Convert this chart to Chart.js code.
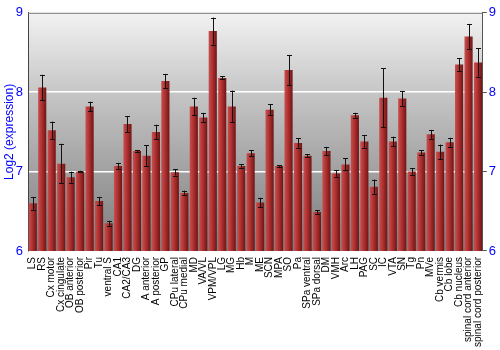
<!DOCTYPE html>
<html><head><meta charset="utf-8">
<script src="https://cdn.jsdelivr.net/npm/chart.js@4/dist/chart.umd.min.js"></script>
<style>html,body{margin:0;padding:0;background:#fff}#wrap{width:500px;height:350px}</style>
</head><body><div id="wrap"><canvas id="c" width="500" height="350"></canvas></div>
<script>
const categories = ["LS","RS","Cx motor","Cx cingulate","OB anterior","OB posterior","Pir","Tu","ventral S","CA1","CA2/CA3","DG","A anterior","A posterior","GP","CPu lateral","CPu medial","MD","VA/VL","VPM/VPL","LG","MG","Hb","M","ME","SCN","MPA","SO","Pa","SPa ventral","SPa dorsal","DM","VMH","Arc","LH","PAG","SC","IC","VTA","SN","Tg","Pn","MVe","Cb vermis","Cb lobe","Cb nucleus","spinal cord anterior","spinal cord posterior"];
const values = [6.60,8.06,7.52,7.10,6.93,7.00,7.82,6.63,6.35,7.07,7.60,7.26,7.20,7.50,8.14,6.99,6.73,7.82,7.68,8.77,8.18,7.82,7.07,7.23,6.61,7.78,7.07,8.28,7.36,7.20,6.49,7.26,6.975,7.09,7.71,7.38,6.81,7.93,7.38,7.92,7.00,7.24,7.47,7.25,7.37,8.35,8.70,8.375];
const errors = [0.08,0.16,0.11,0.25,0.07,0.01,0.06,0.05,0.03,0.04,0.10,0.01,0.13,0.09,0.09,0.04,0.03,0.11,0.06,0.17,0.02,0.20,0.02,0.04,0.06,0.065,0.01,0.19,0.06,0.02,0.02,0.05,0.04,0.075,0.03,0.08,0.09,0.37,0.06,0.09,0.04,0.03,0.055,0.09,0.055,0.08,0.16,0.18];
const yTicks = [6,7,8,9];

const BAR_PCT = 0.86;
function barGradient(ctx){
  const chart = ctx.chart;
  const xs = chart.scales.x;
  if(!xs || ctx.dataIndex === undefined) return '#a82828';
  const cx = xs.getPixelForValue(ctx.dataIndex);
  const w = (xs.right - xs.left)/categories.length*BAR_PCT;
  if(!isFinite(cx)) return '#a82828';
  const g = chart.ctx.createLinearGradient(cx - w/2, 0, cx + w/2, 0);
  g.addColorStop(0,'#c75050');
  g.addColorStop(0.45,'#b03030');
  g.addColorStop(1,'#6e1515');
  return g;
}

const bgPlugin = {
  id:'bg',
  beforeDraw(chart){
    const {ctx, chartArea:a} = chart;
    const g = ctx.createLinearGradient(0,a.top,0,a.bottom);
    g.addColorStop(0,'#f2f2f2');
    g.addColorStop(0.35,'#c4c4c4');
    g.addColorStop(1,'#7c7c7c');
    ctx.save();
    ctx.fillStyle = g;
    ctx.fillRect(a.left,a.top,a.right-a.left,a.bottom-a.top);
    ctx.restore();
  },
  afterDraw(chart){
    const {ctx, chartArea:a} = chart;
    ctx.save();
    ctx.strokeStyle='#777';
    ctx.lineWidth=1;
    ctx.beginPath();
    ctx.moveTo(a.left,a.top+0.5);ctx.lineTo(a.right,a.top+0.5);
    ctx.stroke();
    ctx.restore();
  }
};

const errPlugin = {
  id:'err',
  afterDatasetsDraw(chart){
    const {ctx} = chart;
    const ys = chart.scales.y;
    const meta = chart.getDatasetMeta(0);
    ctx.save();
    ctx.strokeStyle='#111';
    ctx.lineWidth=1;
    meta.data.forEach((bar,i)=>{
      const x = Math.round(bar.x)+0.5;
      const t = ys.getPixelForValue(values[i]+errors[i]);
      const b = ys.getPixelForValue(values[i]-errors[i]);
      ctx.beginPath();
      ctx.moveTo(x,t);ctx.lineTo(x,b);
      ctx.moveTo(x-2.5,Math.round(t)+0.5);ctx.lineTo(x+2.5,Math.round(t)+0.5);
      ctx.moveTo(x-2.5,Math.round(b)+0.5);ctx.lineTo(x+2.5,Math.round(b)+0.5);
      ctx.stroke();
    });
    ctx.restore();
  }
};

new Chart(document.getElementById('c'),{
  type:'bar',
  data:{labels:categories,datasets:[{data:values,backgroundColor:barGradient,borderWidth:0,barPercentage:BAR_PCT,categoryPercentage:1}]},
  options:{
    responsive:false,animation:false,
    layout:{padding:{top:6,right:2,left:2,bottom:-3}},
    plugins:{legend:{display:false},tooltip:{enabled:false}},
    scales:{
      x:{
        grid:{display:false,drawTicks:false,tickLength:0},
        border:{display:false},
        ticks:{autoSkip:false,maxRotation:90,minRotation:90,color:'#000',padding:6,font:{family:'Liberation Sans, Arial',size:10}}
      },
      y:{
        min:6,max:9,position:'left',
        afterFit(s){s.width=26;},
        afterBuildTicks(s){s.ticks=yTicks.map(v=>({value:v}));},
        grid:{color:(c)=> (c.tick && (c.tick.value===7||c.tick.value===8))?'#ffffff':'rgba(0,0,0,0)',drawTicks:false,lineWidth:1.5},
        border:{display:true,color:'#444'},
        ticks:{color:'#0000ff',padding:5,font:{family:'Liberation Sans, Arial',size:13}},
        title:{display:true,text:'Log2 (expression)',color:'#0000ff',padding:{top:0,bottom:1},font:{family:'Liberation Sans, Arial',size:12}}
      },
      y2:{
        min:6,max:9,position:'right',
        afterBuildTicks(s){s.ticks=yTicks.map(v=>({value:v}));},
        grid:{drawOnChartArea:false,color:'#555',tickLength:4},
        border:{display:true,color:'#555'},
        ticks:{color:'#0000ff',padding:2,font:{family:'Liberation Sans, Arial',size:13}}
      }
    }
  },
  plugins:[bgPlugin,errPlugin]
});
</script></body></html>
